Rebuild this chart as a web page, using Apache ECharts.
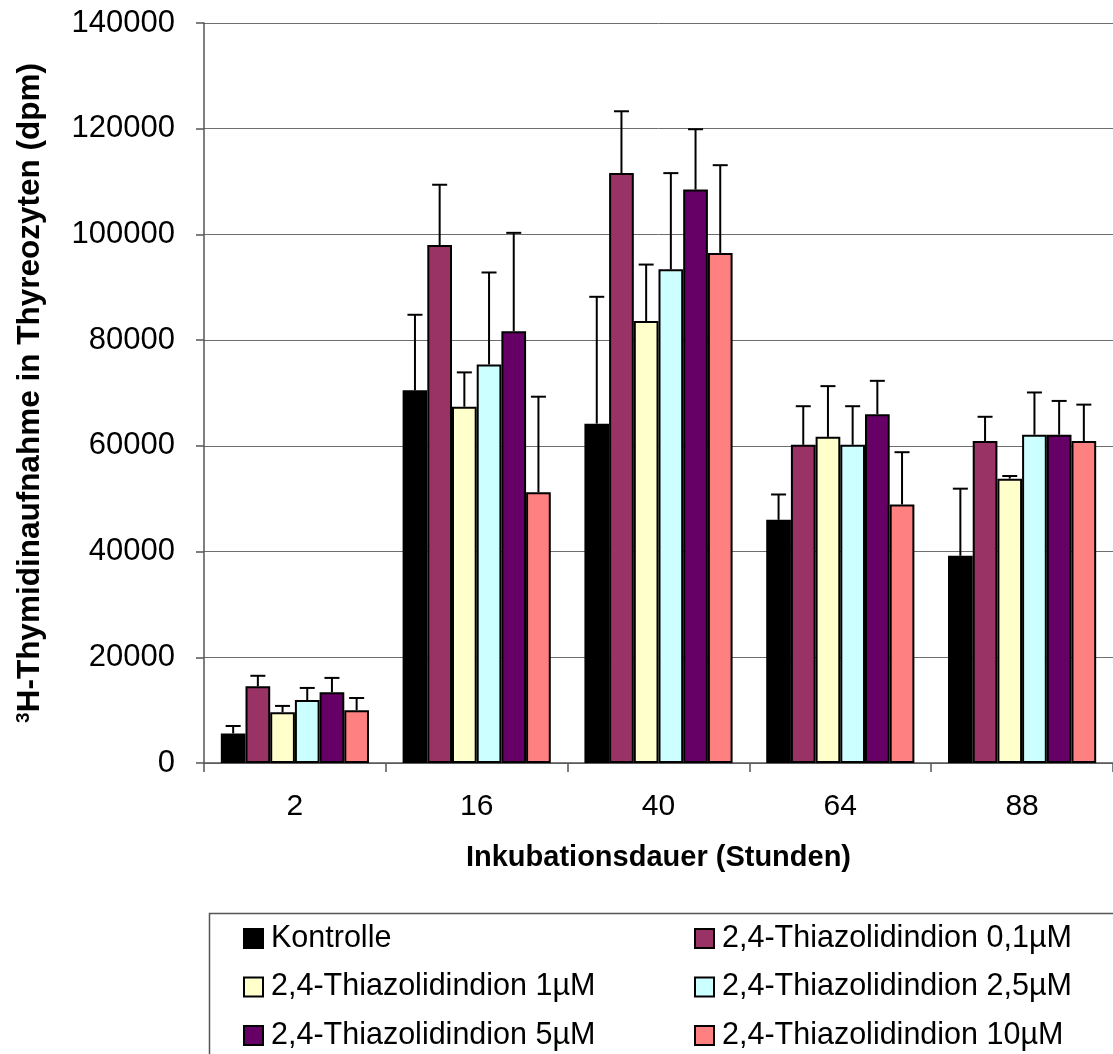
<!DOCTYPE html>
<html>
<head>
<meta charset="utf-8">
<script src="https://cdn.jsdelivr.net/npm/echarts@6/dist/echarts.min.js"></script>
<style>
  html, body { margin: 0; padding: 0; background: #fff; }
  #chart { width: 1113px; height: 1054px; }
</style>
</head>
<body>
<div id="chart"></div>
<script>
// Incubation time points (hours)
const categories = ['2', '16', '40', '64', '88'];

// Series names
const seriesNames = [
  'Kontrolle',
  '2,4-Thiazolidindion 0,1µM',
  '2,4-Thiazolidindion 1µM',
  '2,4-Thiazolidindion 2,5µM',
  '2,4-Thiazolidindion 5µM',
  '2,4-Thiazolidindion 10µM'
];

// Mean 3H-thymidine uptake (dpm)
const kontrolle = [5600, 70500, 64200, 46000, 39200];
const tzd01     = [14500, 98000, 111600, 60200, 60900];
const tzd1      = [9600, 67400, 83600, 61700, 53800];
const tzd25     = [11900, 75400, 93400, 60200, 62100];
const tzd5      = [13400, 81700, 108500, 66000, 62100];
const tzd10     = [10000, 51200, 96500, 48900, 60900];

// Standard deviations (upper error bars)
const kontrolleErr = [1400, 14300, 24000, 4800, 12700];
const tzd01Err     = [2000, 11400, 11700, 7300, 4600];
const tzd1Err      = [1200, 6500, 10700, 9600, 500];
const tzd25Err     = [2300, 17400, 18200, 7300, 8000];
const tzd5Err      = [2700, 18600, 11400, 6300, 6400];
const tzd10Err     = [2300, 18100, 16600, 9900, 6900];

// Y-axis ticks
const yMin = 0, yMax = 140000, yStep = 20000;

const means = [kontrolle, tzd01, tzd1, tzd25, tzd5, tzd10];
const errs  = [kontrolleErr, tzd01Err, tzd1Err, tzd25Err, tzd5Err, tzd10Err];
const colors = ['#000000', '#993366', '#FFFFCC', '#CCFFFF', '#660066', '#FF8080'];

const FONT = "'Liberation Sans', Arial, Helvetica, sans-serif";
const CAT_GAP = 0.185;

const barSeries = seriesNames.map((name, i) => ({
  name: name,
  type: 'bar',
  data: means[i],
  barGap: '0%',
  barCategoryGap: (CAT_GAP * 100) + '%',
  itemStyle: { color: colors[i], borderColor: '#000', borderWidth: 2 },
  emphasis: { disabled: true },
  z: 2
}));

// Error bar items: [categoryIndex, mean, sd, seriesIndex]
const errData = [];
means.forEach((arr, s) => {
  arr.forEach((v, c) => errData.push([c, v, errs[s][c], s]));
});

const errorSeries = {
  name: 'errors',
  type: 'custom',
  data: errData,
  z: 3,
  silent: true,
  renderItem: function (params, api) {
    const c = api.value(0), v = api.value(1), e = api.value(2), s = api.value(3);
    const catW = api.size([1, 0])[0];
    const barW = catW * (1 - CAT_GAP) / seriesNames.length;
    const base = api.coord([c, v]);
    const top = api.coord([c, v + e]);
    const x = base[0] + (s - (seriesNames.length - 1) / 2) * barW;
    const half = 7.5;
    return {
      type: 'group',
      children: [
        { type: 'line', shape: { x1: x, y1: base[1], x2: x, y2: top[1] },
          style: { stroke: '#000', lineWidth: 2 } },
        { type: 'line', shape: { x1: x - half, y1: top[1], x2: x + half, y2: top[1] },
          style: { stroke: '#000', lineWidth: 2 } }
      ]
    };
  }
};

const legendCommon = {
  orient: 'vertical',
  icon: 'rect',
  itemWidth: 19,
  itemHeight: 19,
  itemGap: 17.5,
  padding: 0,
  selectedMode: false,
  textStyle: { fontFamily: FONT, fontSize: 30.5, color: '#000', lineHeight: 30, padding: [0, 0, 0, 3] }
};

const option = {
  animation: false,
  backgroundColor: '#fff',
  grid: { left: 204, top: 23, width: 913, height: 740, containLabel: false },
  xAxis: {
    type: 'category',
    data: categories,
    name: 'Inkubationsdauer (Stunden)',
    nameLocation: 'middle',
    nameGap: 80,
    nameTextStyle: { fontFamily: FONT, fontSize: 29, fontWeight: 'bold', color: '#000' },
    axisLine: { lineStyle: { color: '#555', width: 1.5 } },
    axisTick: { show: true, length: 9, interval: 0, lineStyle: { color: '#555', width: 1.5 } },
    axisLabel: { fontFamily: FONT, fontSize: 30, color: '#000', margin: 29, interval: 0 },
    splitLine: { show: false }
  },
  yAxis: {
    type: 'value',
    min: yMin,
    max: yMax,
    interval: yStep,
    name: '{sup|3}H-Thymidinaufnahme in Thyreozyten (dpm)',
    nameLocation: 'middle',
    nameRotate: 90,
    nameGap: 158,
    nameTextStyle: {
      fontFamily: FONT, fontSize: 31.5, fontWeight: 'bold', color: '#000',
      rich: {
        sup: { fontFamily: FONT, fontSize: 19, fontWeight: 'bold', color: '#000', padding: [0, 0, 12, 0] }
      }
    },
    axisLine: { show: true, lineStyle: { color: '#555', width: 1.5 } },
    axisTick: { show: true, length: 8, lineStyle: { color: '#555', width: 1.5 } },
    axisLabel: {
      fontFamily: FONT, fontSize: 31, color: '#000', margin: 29,
      formatter: function (v) { return String(v); }
    },
    splitLine: { show: true, lineStyle: { color: '#6e6e6e', width: 1 } }
  },
  legend: [
    Object.assign({}, legendCommon, {
      left: 243, top: 923,
      data: [seriesNames[0], seriesNames[2], seriesNames[4]]
    }),
    Object.assign({}, legendCommon, {
      left: 694, top: 923,
      data: [seriesNames[1], seriesNames[3], seriesNames[5]]
    })
  ],
  graphic: [{
    type: 'rect',
    left: 207, top: 911,
    shape: { x: 0, y: 0, width: 905, height: 160 },
    style: { fill: 'none', stroke: '#555', lineWidth: 1.5 },
    silent: true, z: -1
  }],
  series: barSeries.concat([errorSeries])
};

const chart = echarts.init(document.getElementById('chart'), null, { renderer: 'canvas' });
chart.setOption(option);
</script>
</body>
</html>
